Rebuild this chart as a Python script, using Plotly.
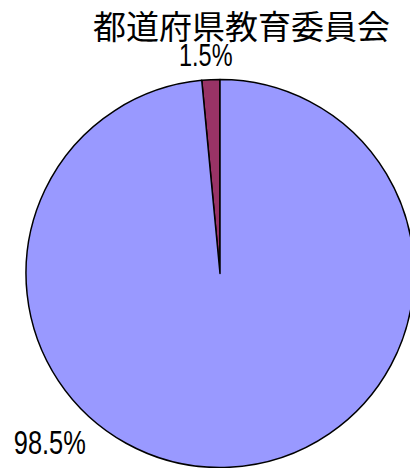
import plotly.graph_objects as go

title_text = "都道府県教育委員会"
categories = ["その他", "該当"]
values = [1.5, 98.5]
colors = ["#993366", "#9999FF"]

W, H = 430, 468
cx, cy, r = 220, 273.5, 194

start_angle = -360.0 * values[0] / sum(values)  # small slice sits just left of 12 o'clock

fig = go.Figure()
fig.add_trace(go.Pie(
    labels=categories,
    values=values,
    sort=False,
    direction="clockwise",
    rotation=start_angle,
    marker=dict(colors=colors, line=dict(color="black", width=1.5)),
    textinfo="none",
    showlegend=False,
    hoverinfo="label+percent",
    domain=dict(x=[(cx - r) / W, (cx + r) / W], y=[1 - (cy + r) / H, 1 - (cy - r) / H]),
))

# label positions (pixel centres) and font sizes
label_pos = [(206, 55), (50, 442)]
label_size = [30.5, 33]
for v, (px, py), fs in zip(values, label_pos, label_size):
    fig.add_annotation(
        x=px / W, y=1 - py / H, xref="paper", yref="paper",
        text=f"{v:.1f}%", showarrow=False,
        font=dict(family="Liberation Sans, Arial, sans-serif", size=fs, color="black"),
        xanchor="center", yanchor="middle",
    )

fig.add_annotation(
    x=241 / W, y=1 - 25 / H, xref="paper", yref="paper",
    text=title_text, showarrow=False,
    font=dict(family="Noto Sans CJK JP, sans-serif", size=33, color="black"),
    xanchor="center", yanchor="middle",
)

fig.update_layout(
    width=W, height=H,
    margin=dict(l=0, r=0, t=0, b=0),
    paper_bgcolor="white", plot_bgcolor="white",
)

narrow = 0.77  # horizontal condensing of the percentage labels (narrow Gothic look)
post = """
document.body.style.overflow='hidden';
document.body.style.margin='0';
var gd = document.getElementById('{plot_id}');
gd.querySelectorAll('.annotation-text').forEach(function(t){
  if (t.textContent.indexOf('%') >= 0) {
    var L = t.getComputedTextLength() * NARROW;
    t.setAttribute('textLength', L);
    t.setAttribute('lengthAdjust', 'spacingAndGlyphs');
  }
});
""".replace("NARROW", str(narrow))

fig.write_html("out.html", post_script=post)
